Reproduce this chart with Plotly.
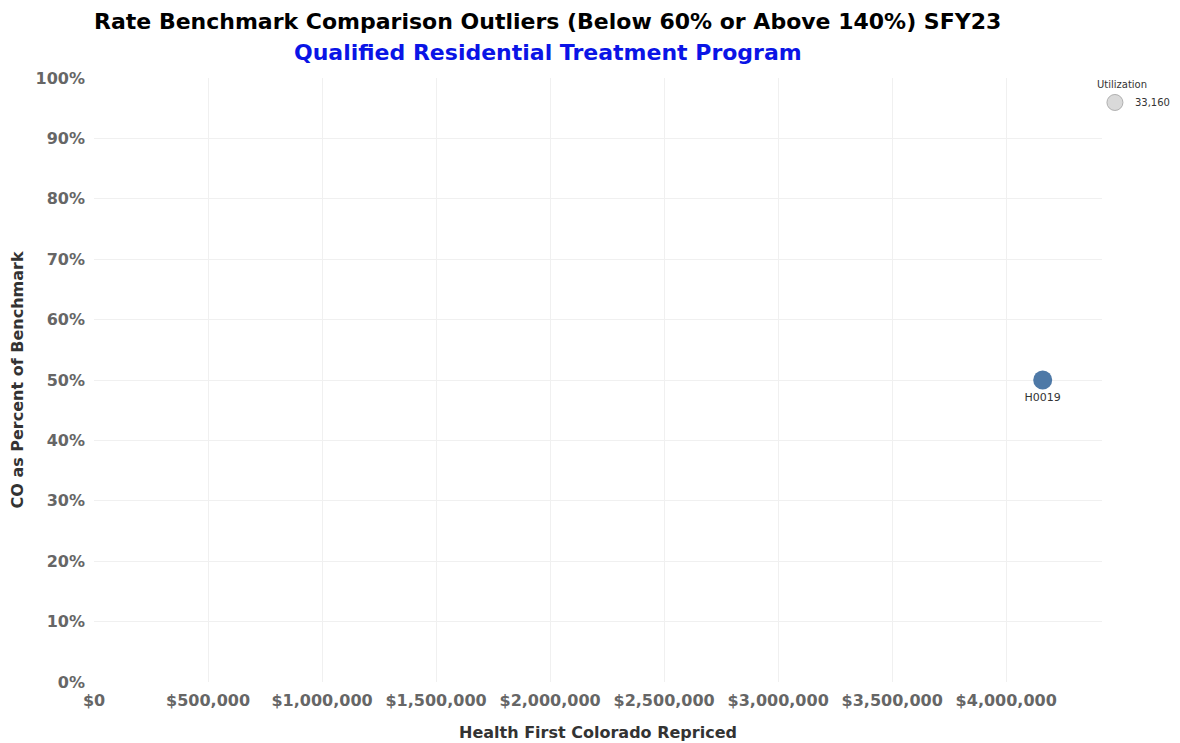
import plotly.graph_objects as go

# outlier points (only one in this program)
codes = ['H0019']
repriced = [4160000]
pct_of_benchmark = [0.50]
utilization = [33160]

x_ticks = [0, 500000, 1000000, 1500000, 2000000, 2500000, 3000000, 3500000, 4000000]
y_ticks = [0, 0.1, 0.2, 0.3, 0.4, 0.5, 0.6, 0.7, 0.8, 0.9, 1.0]

FONT = 'DejaVu Sans'

fig = go.Figure()
fig.add_trace(go.Scatter(
    x = repriced,
    y = pct_of_benchmark,
    mode = 'markers+text',
    text = codes,
    textposition = 'bottom center',
    textfont = dict(family=FONT, size=11, color='#333333'),
    marker = dict(size=19, color='#4e79a7', line=dict(width=0)),
    customdata = utilization,
    hovertemplate = '%{text}<br>%{x:$,.0f}<br>%{y:.0%}<br>Utilization %{customdata:,}<extra></extra>',
    showlegend = False,
))
# size legend entry
fig.add_trace(go.Scatter(
    x = [None],
    y = [None],
    mode = 'markers',
    name = f'{utilization[0]:,}',
    marker = dict(size=18, color='#d9d9d9', line=dict(width=1, color='#b0b0b0')),
    showlegend = True,
))

# the page body adds an 8px offset, so the figure is 8px smaller than the window
fig.update_layout(
    width = 1172,
    height = 735,
    paper_bgcolor = 'white',
    plot_bgcolor = 'white',
    margin = dict(l=86, r=78, t=70, b=61, autoexpand=False),
    font = dict(family=FONT),
    legend = dict(
        title = dict(text='Utilization', font=dict(size=10, color='#333333', family=FONT)),
        font = dict(size=10, color='#333333', family=FONT),
        x = 0.993, y = 1.005, xanchor='left', yanchor='top',
        itemsizing = 'trace',
        bgcolor = 'rgba(0,0,0,0)',
        tracegroupgap = 0,
    ),
    annotations = [
        dict(text='<b>Rate Benchmark Comparison Outliers (Below 60% or Above 140%) SFY23</b>',
             xref='paper', yref='paper', x=0.45, y=1.0, yshift=57, xanchor='center', yanchor='middle',
             showarrow=False, font=dict(size=22, color='black', family=FONT)),
        dict(text='<b>Qualified Residential Treatment Program</b>',
             xref='paper', yref='paper', x=0.45, y=1.0, yshift=26, xanchor='center', yanchor='middle',
             showarrow=False, font=dict(size=22, color='#0a14e6', family=FONT)),
    ],
)
fig.update_xaxes(
    range = [0, 4420000],
    tickvals = x_ticks,
    tickformat = '$,.0f',
    tickfont = dict(size=16, color='#666666', family=FONT, weight='bold'),
    title = dict(text='<b>Health First Colorado Repriced</b>', font=dict(size=16, color='#333333', family=FONT), standoff=17),
    showgrid = True, gridcolor = '#f0f0f0',
    zeroline = False, showline = False, automargin = False,
    ticks = '', ticklabelstandoff = 7,
)
fig.update_yaxes(
    range = [0, 1.0],
    tickvals = y_ticks,
    tickformat = '.0%',
    tickfont = dict(size=16, color='#666666', family=FONT, weight='bold'),
    title = dict(text='<b>CO as Percent of Benchmark</b>', font=dict(size=16, color='#333333', family=FONT), standoff=14),
    showgrid = True, gridcolor = '#f0f0f0',
    zeroline = False, showline = False, automargin = False,
    ticks = '', ticklabelstandoff = 8,
)

fig.write_html('out.html')
